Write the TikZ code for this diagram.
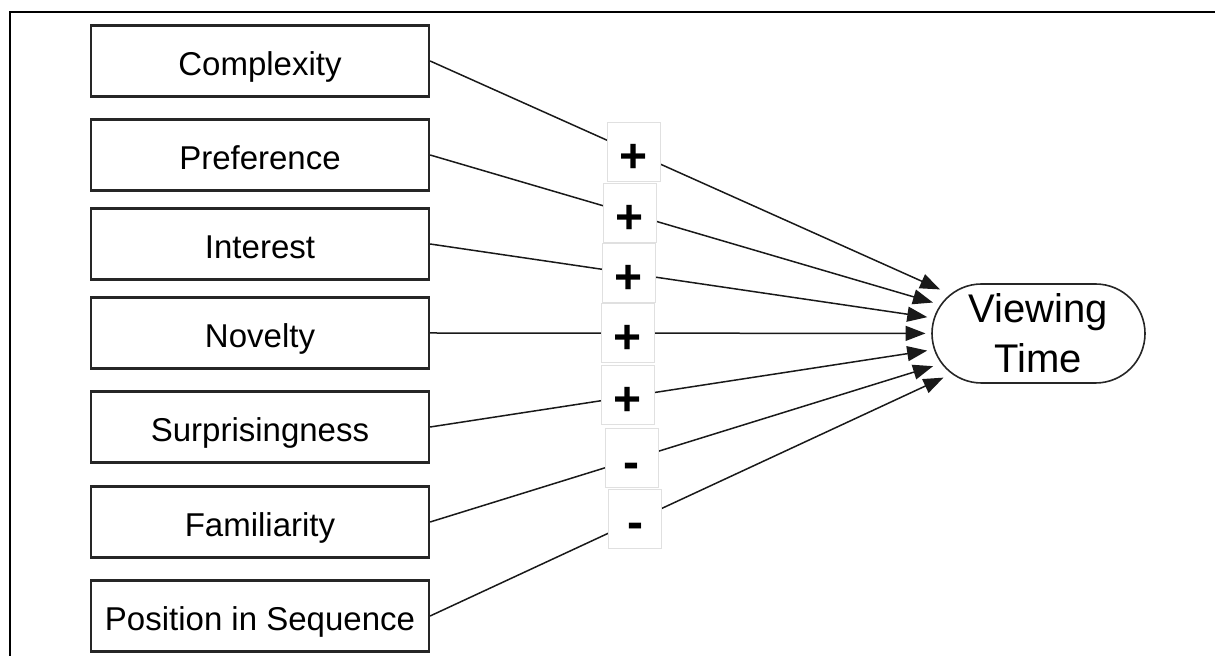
\documentclass[tikz,border=0pt]{standalone}
\usepackage{fontspec}
\setmainfont{Liberation Sans}
\usetikzlibrary{arrows.meta,shapes.misc}
\begin{document}
\begin{tikzpicture}[x=0.5pt,y=-0.5pt,
  factor/.style={draw=black!85,line width=1.1pt,fill=white,minimum width=169pt,
    minimum height=35.5pt,inner sep=0pt,text height=14.6pt,text depth=0pt,
    font=\fontsize{16.5}{19.8}\selectfont},
  outcome/.style={rounded rectangle,draw=black!85,line width=0.8pt,minimum width=106.5pt,
    minimum height=49.5pt,inner sep=0pt,align=center,font=\fontsize{20}{25}\selectfont},
  effect/.style={-{Triangle[length=10pt,width=7.5pt]},line width=0.75pt,black!90},
  sign/.style={draw=black!12,line width=0.4pt,fill=white,minimum width=26.5pt,
    minimum height=29.5pt,inner sep=0pt,text height=20.4pt,text depth=0pt,
    font=\fontsize{24}{26}\selectfont\bfseries}]
\useasboundingbox (0,0) rectangle (1215,656);
% frame
\draw[line width=1.3pt] (10,656) -- (10,12) -- (1215,12);
% predictors
\node[factor] (cx) at (260,61) {Complexity};
\node[factor] (pr) at (260,155) {Preference};
\node[factor] (in) at (260,244) {Interest};
\node[factor] (nv) at (260,333) {Novelty};
\node[factor] (su) at (260,427) {Surprisingness};
\node[factor] (fa) at (260,522) {Familiarity};
\node[factor] (ps) at (260,616) {Position in Sequence};
% outcome
\node[outcome] (vt) at (1038.5,333.5) {\raisebox{-1.5pt}{Viewing}\\\raisebox{-1.5pt}{Time}};
% effects
\draw[effect,shorten >=53.9pt] (cx.east) -- (vt.center);
\draw[effect,shorten >=55pt] (pr.east) -- (vt.center);
\draw[effect,shorten >=56.2pt] (in.east) -- (vt.center);
\draw[effect,shorten >=56.5pt] (nv.east) -- (vt.center);
\draw[effect,shorten >=56.3pt] (su.east) -- (vt.center);
\draw[effect,shorten >=55.2pt] (fa.east) -- (vt.center);
\draw[effect,shorten >=52.4pt] (ps.east) -- (vt.center);
% effect signs
\node[sign] (s1) at (634,152) {+};
\node[sign] (s2) at (630,213) {+};
\node[sign] (s3) at (629,273) {+};
\node[sign] (s4) at (628,333) {+};
\node[sign] (s5) at (628,395) {+};
\node[sign] (s6) at (631.5,458) {-};
\node[sign] (s7) at (635,518.5) {-};
\end{tikzpicture}
\end{document}
